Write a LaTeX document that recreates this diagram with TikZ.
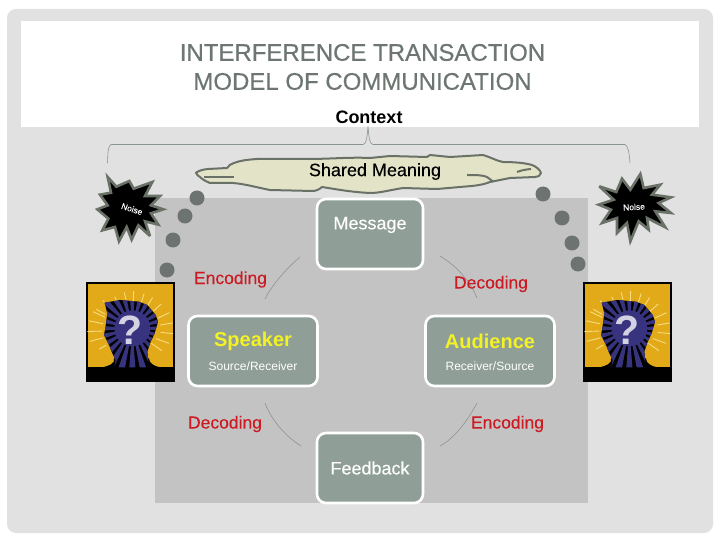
\documentclass[tikz,border=0pt]{standalone}
\usepackage{fontspec}
\setmainfont{Liberation Sans}
\newfontfamily\titlefont[FakeBold=0.5]{Liberation Sans}
\newfontfamily\softfont[FakeBold=0.15]{Liberation Sans}
\definecolor{frameg}{HTML}{E1E1E1}
\definecolor{panelg}{HTML}{C3C3C3}
\definecolor{boxg}{HTML}{8F9E96}
\definecolor{titleg}{HTML}{6E7672}
\definecolor{lineg}{HTML}{8A9490}
\definecolor{arcg}{HTML}{858D89}
\definecolor{cloudf}{HTML}{E3E3C8}
\definecolor{cloudd}{HTML}{6A7268}
\definecolor{dotg}{HTML}{6D7370}
\definecolor{redt}{HTML}{CC1A22}
\definecolor{yelt}{HTML}{F2F224}
\definecolor{gold}{HTML}{E2A918}
\definecolor{navy}{HTML}{37337E}
\definecolor{rayy}{HTML}{F6DD80}
\tikzset{
  x=1pt,y=-1pt,
  modelbox/.style={draw=white,line width=2.6pt,fill=boxg,rounded corners=9pt,minimum width=106pt,minimum height=70pt,inner sep=0pt},
  widebox/.style={modelbox,minimum width=129pt},
  redlabel/.style={text=redt,font=\softfont\fontsize{17.5}{20}\selectfont,inner sep=0pt},
  boxlabel/.style={text=white,font=\softfont\fontsize{18}{20}\selectfont,inner sep=0pt},
  sublabel/.style={text=white,font=\fontsize{12}{14}\selectfont,inner sep=0pt},
  yellabel/.style={text=yelt,font=\bfseries\fontsize{20}{22}\selectfont,inner sep=0pt},
  arcline/.style={draw=arcg,line width=0.5pt},
  dotnode/.style={circle,fill=dotg,minimum size=15pt,inner sep=0pt},
  burst/.style={draw=cloudd,line width=2.6pt,fill=black,line join=miter,miter limit=4},
  noisetext/.style={text=white,font=\softfont\fontsize{8.5}{9}\selectfont,inner sep=0pt},
  contextline/.style={draw=lineg,line width=0.6pt}
}
\newcommand{\headpic}[2]{%
  \begin{scope}[shift={(#1,#2)},x=0.3333pt,y=-0.3333pt]
    \fill[black] (6,6) rectangle (272,305);
    \fill[gold] (12,12) rectangle (267,262);
    \foreach \a/\r/\l in {-150/95/30,-135/95/30,-118/85/28,-102/85/30,-88/85/32,-72/85/30,-58/85/30,-42/85/32,-25/85/38,-10/85/38,5/85/38,20/75/42,35/70/38,165/90/42,178/90/45,192/90/42,205/90/40,150/90/25}{
      \draw[rayy,line width=0.9pt] (145,150) ++(\a:\r) -- ++(\a:\l);
    }
    \fill[black] (6,262) -- (55,262) .. controls (75,258) and (95,250) .. (90,235) -- (195,235)
      .. controls (195,250) and (210,258) .. (228,262) -- (272,262) -- (272,305) -- (6,305) -- cycle;
    \fill[black] (62,68) -- (110,60) -- (165,65) -- (190,75) -- (215,105) -- (222,125) -- (212,160)
      -- (200,185) -- (190,215) -- (195,262) -- (90,262) -- (95,240) -- (85,220) -- (75,195) -- (60,165) -- (64,145) -- (70,100) -- cycle;
    \begin{scope}
      \clip (62,68) -- (110,60) -- (165,65) -- (190,75) -- (215,105) -- (222,125) -- (212,160)
      -- (200,185) -- (190,215) -- (195,262) -- (90,262) -- (95,240) -- (85,220) -- (75,195) -- (60,165) -- (64,145) -- (70,100) -- cycle;
      \fill[navy] (145,145) circle (18pt);
      \foreach \a in {0,15,...,345}{
        \fill[navy] (145,145) -- ++(\a-4.5:135) -- ++(\a+90:21) -- cycle;
      }
    \end{scope}
    \node[text=white!78!navy,font=\bfseries\fontsize{41}{43}\selectfont,inner sep=0pt] at (139,150) {?};
  \end{scope}}
\begin{document}
\begin{tikzpicture}
\useasboundingbox (0,0) rectangle (720,540);
\fill[white] (0,0) rectangle (720,540);
% frame
\fill[frameg,rounded corners=9pt] (7,9) rectangle (713,533);
\fill[white] (21,21) rectangle (699,127);
\fill[panelg] (155,198) rectangle (588,503);

% title
\node[text=titleg,align=center,font=\titlefont\fontsize{24}{29}\selectfont,inner sep=0pt] (title) at (362.5,67) {INTERFERENCE TRANSACTION\\MODEL OF COMMUNICATION};
\node[font=\bfseries\fontsize{18}{20}\selectfont,inner sep=0pt] (context) at (369,117) {Context};

% context brace
\coordinate (bl) at (107.5,163);
\coordinate (br) at (630,163);
\coordinate (bm) at (368,126);
\draw[contextline] (bl) .. controls (108,150) and (108,147) .. (111,144.5) -- (363,144.5) .. controls (366,144) and (367,140) .. (bm)
  .. controls (369,140) and (370,144) .. (373,144.5) -- (625,144.5) .. controls (628,147) and (629,150) .. (br);

% cloud
\draw[cloudd,fill=cloudf,line width=2pt,line join=round] (196,172.7) .. controls (200,170) and (204,169.5) .. (208,169)
  -- (227,168) .. controls (229,165) and (231,164) .. (234,163) .. controls (242,160) and (250,159.5) .. (257,159)
  -- (307,159) .. controls (330,159) and (350,157) .. (370,158) -- (390,156) -- (427,157) -- (430,155) -- (450,157)
  -- (483,155) .. controls (490,157) and (497,161) .. (503,162) .. controls (515,162) and (525,163) .. (532,165)
  .. controls (537,167) and (540,170) .. (541,173) .. controls (540,176) and (538,177) .. (535,177)
  -- (510,178) .. controls (500,180) and (495,181) .. (490,182) .. controls (480,186) and (470,186) .. (460,187)
  -- (437,189) -- (403,188) .. controls (390,190) and (380,193) .. (370,193) .. controls (350,192) and (335,189) .. (322,187)
  .. controls (320,189) and (316,191) .. (313,191) -- (270,190) .. controls (255,187) and (245,184) .. (233,183)
  -- (210,183) .. controls (205,181) and (202,179) .. (200,177) .. controls (198,176) and (197,175) .. cycle;
\draw[cloudd,line width=2pt] (204,177) -- (234,177);
\draw[cloudd,line width=2pt] (517,172) .. controls (522,170) and (526,169.5) .. (531,169);
\draw[cloudd,line width=2pt] (467,175) .. controls (475,175) and (483,175) .. (487,177) -- (493,181.5);
\node[font=\softfont\fontsize{18}{20}\selectfont,inner sep=0pt] (shared) at (375,171.5) {Shared Meaning};

% dots
\node[dotnode] (dl1) at (197,198) {};
\node[dotnode] (dl2) at (185,216) {};
\node[dotnode] (dl3) at (173,240) {};
\node[dotnode] (dl4) at (167,270) {};
\node[dotnode] (dr1) at (543,194) {};
\node[dotnode] (dr2) at (562,218) {};
\node[dotnode] (dr3) at (572,243) {};
\node[dotnode] (dr4) at (578,264) {};

% bursts
\begin{scope}[shift={(95,172)},x=0.3333pt,y=-0.3333pt]
  \draw[burst] (38,15) -- (64,44) -- (103,27) -- (116,50) -- (172,30) -- (150,72) -- (195,72) -- (168,100) -- (205,112)
    -- (168,124) -- (190,158) -- (150,148) -- (165,192) -- (130,160) -- (110,203) -- (95,165) -- (72,208) -- (60,165)
    -- (22,175) -- (40,140) -- (7,112) -- (38,100) -- (15,68) -- (48,62) -- cycle;
\end{scope}
\node[noisetext,rotate=-18] (noiseL) at (132,209) {Noise};
\begin{scope}[shift={(597,168)},x=0.3333pt,y=-0.3333pt]
  \draw[burst] (130,18) -- (140,60) -- (190,50) -- (165,80) -- (222,88) -- (185,105) -- (222,135) -- (175,130)
    -- (205,178) -- (150,150) -- (155,185) -- (125,160) -- (100,220) -- (90,165) -- (60,195) -- (60,150)
    -- (15,165) -- (42,125) -- (5,110) -- (50,95) -- (7,55) -- (58,72) -- (75,32) -- (100,65) -- cycle;
\end{scope}
\node[noisetext,rotate=3] (noiseR) at (634,207) {Noise};

% head pictures
\headpic{84}{280}
\headpic{581}{280}

% boxes
\node[modelbox] (message) at (370,234) {};
\node[boxlabel] (messagel) at (370,225) {Message};
\node[widebox] (speaker) at (253,351) {};
\node[yellabel] (speakerl) at (253,341.5) {Speaker};
\node[sublabel] (speakers) at (253,366) {Source/Receiver};
\node[widebox] (audience) at (490,351) {};
\node[yellabel] (audiencel) at (490,341.5) {Audience};
\node[sublabel] (audiences) at (490,366) {Receiver/Source};
\node[modelbox] (feedback) at (370,468) {};
\node[boxlabel] (feedbackl) at (370,468) {Feedback};

% arcs
\coordinate (a1s) at (300,257); \coordinate (a1e) at (265,299);
\coordinate (a2s) at (440,256); \coordinate (a2e) at (477,298);
\coordinate (a3s) at (265,403); \coordinate (a3e) at (301,446);
\coordinate (a4s) at (477,403); \coordinate (a4e) at (440,446);
\draw[arcline] (a1s) .. controls (285,270) and (272,285) .. (a1e);
\draw[arcline] (a2s) .. controls (455,265) and (470,280) .. (a2e);
\draw[arcline] (a3s) .. controls (272,422) and (288,438) .. (a3e);
\draw[arcline] (a4s) .. controls (468,420) and (455,438) .. (a4e);

% labels
\node[redlabel] (enc1) at (230.5,279.5) {Encoding};
\node[redlabel] (dec1) at (491,284) {Decoding};
\node[redlabel] (dec2) at (225,424) {Decoding};
\node[redlabel] (enc2) at (507.5,424) {Encoding};
\end{tikzpicture}
\end{document}
